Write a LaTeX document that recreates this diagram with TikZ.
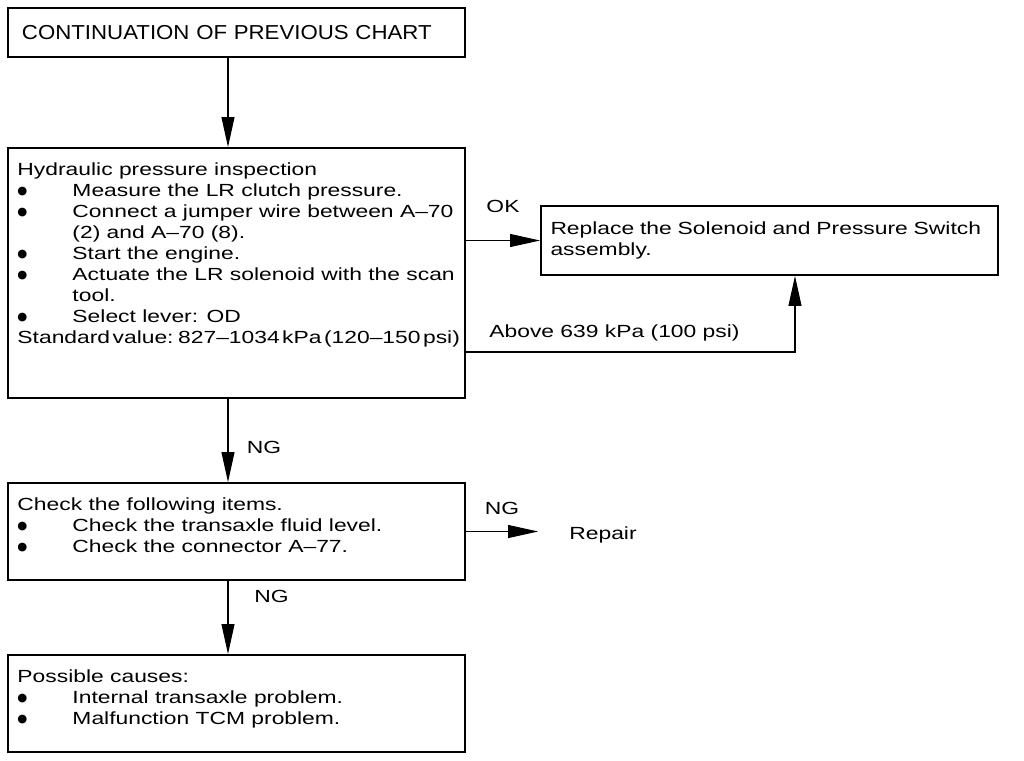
\documentclass[tikz,border=0pt]{standalone}
\usepackage{fontspec}
\setmainfont{Liberation Sans}
\newfontfamily\chartfont[FakeStretch=1.3, Ligatures=TeX]{Liberation Sans}
\newfontfamily\headfont[FakeStretch=1.1, Ligatures=TeX]{Liberation Sans}
\newfontfamily\dotfont{DejaVu Sans}
\usetikzlibrary{arrows.meta, positioning}
\tikzstyle{arrow} = [line width=0.6pt, -{Triangle[length=6mm,width=2.6mm]}]
\tikzstyle{chartbox} = [rectangle, draw=black, line width=1.1pt, inner xsep=0.19cm, inner ysep=0.3cm]
\tikzstyle{tag} = [inner sep=0.118cm]
\newcommand\itm[1]{\par\hangindent=1.1cm\hangafter=1\noindent\makebox[1.1cm][l]{\raisebox{1.1pt}{\dotfont\fontsize{6.5}{7}\selectfont ●}}#1}
\newcommand\boxtext[2]{\parbox[t][#1][t]{8.76cm}{\raggedright #2}}

\begin{document}
\begin{tikzpicture}[node distance=1.5cm, font=\chartfont\fontsize{10}{11.9}\selectfont]
\useasboundingbox (0,0) rectangle (20.48,-15.2);
% Placement of nodes
\node (top) [chartbox, inner ysep=0, minimum height=0.98cm, text width=8.58cm, inner xsep=0.28cm, align=left, font=\headfont\fontsize{11.5}{14}\selectfont] at (4.73,-0.65) {CONTINUATION OF PREVIOUS CHART};
\node (insp) [chartbox, below of=top, yshift=-3.31cm] {\boxtext{4.4cm}{Hydraulic pressure inspection
  \itm{Measure the LR clutch pressure.}
  \itm{Connect a jumper wire between A--70\newline (2) and A--70 (8).}
  \itm{Start the engine.}
  \itm{Actuate the LR solenoid with the scan\newline tool.}
  \itm{Select lever: OD}
  \par\mbox{\spaceskip=.14em\relax Standard value: 827--1034 kPa (120--150 psi)}}};
\node (replace) [chartbox, right of=insp, xshift=9.16cm, yshift=0.65cm, text width=8.76cm, align=left, minimum height=1.38cm, inner ysep=0.1cm] {Replace the Solenoid and Pressure Switch\\assembly.};
\node (check) [chartbox, below of=insp, yshift=-3.67cm] {\boxtext{1.34cm}{Check the following items.
  \itm{Check the transaxle fluid level.}
  \itm{Check the connector A--77.}}};
\node (repair) [tag, right of=check, xshift=5.83cm, yshift=-0.07cm] {Repair};
\node (causes) [chartbox, below of=check, yshift=-1.94cm] {\boxtext{1.34cm}{Possible causes:
  \itm{Internal transaxle problem.}
  \itm{Malfunction TCM problem.}}};

\coordinate (mid) at (4.56,0);
\coordinate (abv) at (15.9,-7.04);

% Placement of edges
\draw [arrow] (top.south -| mid) -- (insp.north -| mid);
\draw [arrow] (insp.east |- replace.west) -- node[tag, anchor=south, yshift=0.42cm] {OK} (replace.west);
\draw [arrow] (insp.east |- abv) -| node[tag, pos=0.25, anchor=south, xshift=-0.32cm, yshift=0.08cm] {Above 639 kPa (100 psi)} (replace.south -| abv);
\draw [arrow] (insp.south -| mid) -- node[tag, anchor=west, xshift=0.25cm, yshift=-0.14cm] {NG} (check.north -| mid);
\draw [arrow] (check.east) -- node[tag, anchor=south, yshift=0.2cm] {NG} ([xshift=-0.5cm]repair.west |- check.east);
\draw [arrow] (check.south -| mid) -- node[tag, anchor=west, xshift=0.4cm, yshift=0.42cm] {NG} (causes.north -| mid);

\end{tikzpicture}
\end{document}
